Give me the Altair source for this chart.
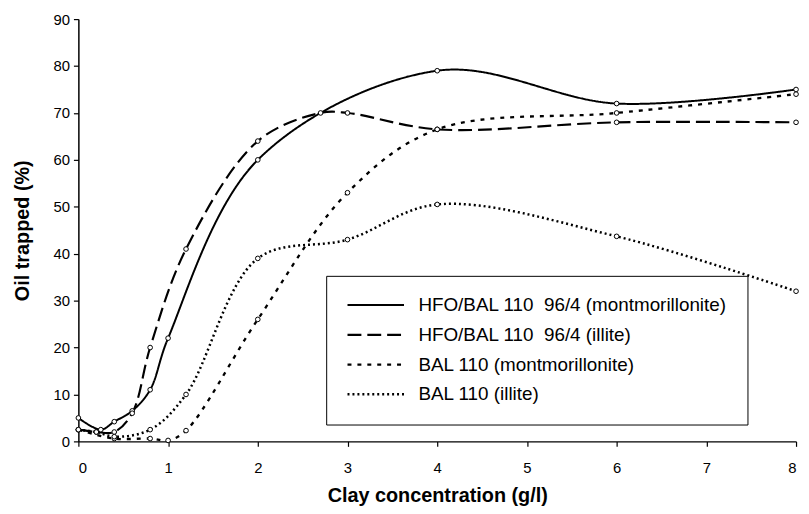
import altair as alt
import pandas as pd

series_names = [
    "HFO/BAL 110\u00a0 96/4 (montmorillonite)",
    "HFO/BAL 110\u00a0 96/4 (illite)",
    "BAL 110 (montmorillonite)",
    "BAL 110 (illite)",
]

hfo_mont_x = [0, 0.25, 0.4, 0.6, 0.8, 1.0, 2, 4, 6, 8]
hfo_mont_y = [5, 2.5, 4.2, 6.5, 11, 22, 60, 79, 72, 75]

hfo_ill_x = [0, 0.2, 0.4, 0.6, 0.8, 1.2, 2, 2.7, 3, 4, 6, 8]
hfo_ill_y = [2.5, 2, 2, 6, 20, 41, 64, 70, 70, 66.5, 68, 68]

bal_mont_x = [0, 0.4, 0.8, 1.0, 1.2, 2, 3, 4, 6, 8]
bal_mont_y = [2.5, 0.6, 0.6, 0.2, 2.3, 26, 53, 66.5, 70, 74]

bal_ill_x = [0, 0.2, 0.4, 0.8, 1.2, 2, 3, 4, 6, 8]
bal_ill_y = [2.5, 2, 1, 2.5, 10, 39, 43, 50.5, 43.7, 32]

x_ticks = [0, 1, 2, 3, 4, 5, 6, 7, 8]
y_ticks = [0, 10, 20, 30, 40, 50, 60, 70, 80, 90]

dash_range = [[1, 0], [14, 6], [4, 6], [2, 3]]
width_range = [2, 2.5, 2.8, 1.6]

rows = []
for name, xs, ys in zip(
    series_names,
    [hfo_mont_x, hfo_ill_x, bal_mont_x, bal_ill_x],
    [hfo_mont_y, hfo_ill_y, bal_mont_y, bal_ill_y],
):
    for xv, yv in zip(xs, ys):
        rows.append({"series": name, "x": xv, "y": yv})
df = pd.DataFrame(rows)

FONT = "Liberation Sans"

x_enc = alt.X(
    "x:Q",
    scale=alt.Scale(domain=[0, 8], nice=False, zero=False),
    axis=alt.Axis(
        values=x_ticks,
        title="Clay concentration (g/l)",
        labelFontSize=15,
        labelPadding=14,
        titleFontSize=20,
        titlePadding=11,
    ),
)
y_enc = alt.Y(
    "y:Q",
    scale=alt.Scale(domain=[0, 90], nice=False),
    axis=alt.Axis(
        values=y_ticks,
        title="Oil trapped (%)",
        labelFontSize=15,
        labelPadding=4,
        titleFontSize=20,
        titlePadding=21,
    ),
)

lines = alt.Chart(df).mark_line(interpolate="catmull-rom", color="black").encode(
    x=x_enc,
    y=y_enc,
    strokeDash=alt.StrokeDash(
        "series:N",
        scale=alt.Scale(domain=series_names, range=dash_range),
        legend=alt.Legend(
            title=None,
            orient="none",
            legendX=250,
            legendY=259,
            strokeColor="black",
            fillColor="white",
            padding=20,
            symbolType="M-8,0H49",
            symbolSize=4,
            symbolStrokeColor="black",
            symbolStrokeWidth=1.8,
            labelFont=FONT,
            labelFontSize=19,
            labelColor="black",
            labelOffset=54,
            rowPadding=10,
            labelLimit=400,
        ),
    ),
    strokeWidth=alt.StrokeWidth(
        "series:N",
        scale=alt.Scale(domain=series_names, range=width_range),
        legend=None,
    ),
)

points = alt.Chart(df).mark_point(
    shape="circle", size=22, filled=True, fill="white", stroke="black",
    strokeWidth=1, opacity=1,
).encode(x=x_enc, y=y_enc, detail="series:N")

chart = (
    alt.layer(lines, points)
    .properties(width=724, height=426, padding={"left": 4, "top": 2, "right": 0, "bottom": 0})
    .configure_view(stroke=None)
    .configure_axis(
        grid=False,
        domainColor="black",
        domainWidth=1.5,
        tickColor="black",
        tickSize=5,
        tickWidth=1.2,
        labelColor="black",
        titleColor="black",
        labelFont=FONT,
        titleFont=FONT,
        titleFontWeight="bold",
    )
)

chart.save("out.html", embed_options={"renderer": "svg", "actions": False})
